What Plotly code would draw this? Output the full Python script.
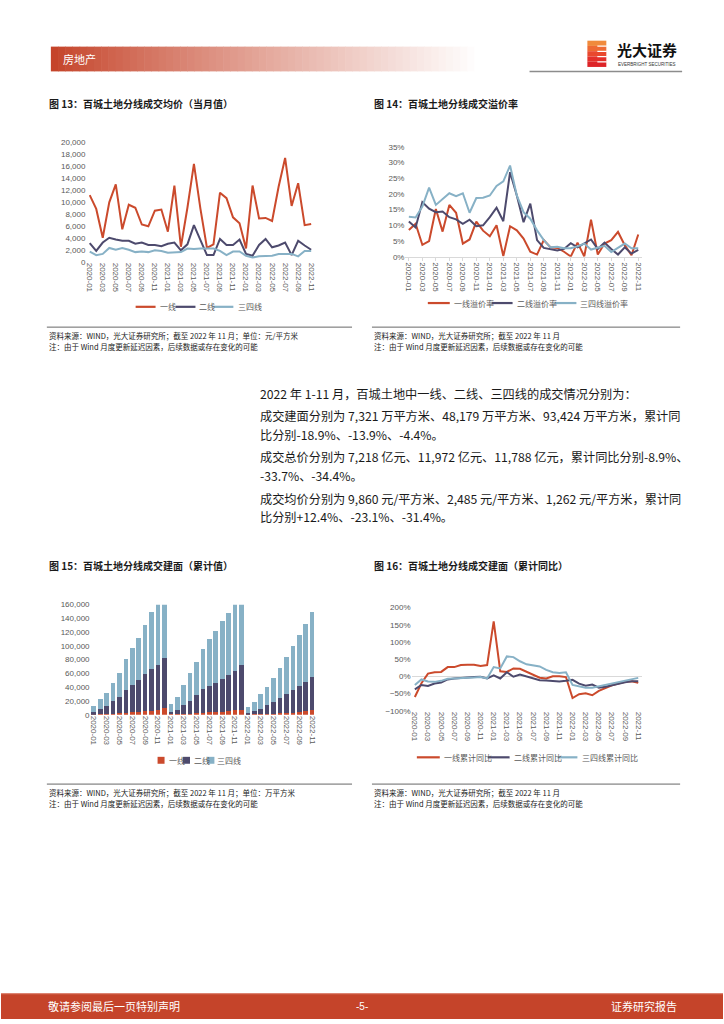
import plotly.graph_objects as go

W, H = 724, 1024

months = [f"{y}-{m:02d}" for y in (2020, 2021, 2022) for m in range(1, 13)][:35]
tick_months = months[::2]

# Fig 13: monthly average price (yuan / sqm)
price_t1 = [11100, 8800, 4000, 9900, 12900, 5400, 9500, 9000, 6200, 5900, 8500, 8700,
            5000, 12700, 2500, 9000, 16300, 8800, 2300, 2900, 11500, 10600, 7400, 6400,
            2200, 12700, 7200, 7300, 6800, 12500, 17300, 9300, 13100, 6100, 6300]
price_t2 = [3100, 1800, 3200, 4000, 3700, 3500, 3500, 3000, 3200, 2800, 2800, 2600,
            3000, 3200, 1900, 2900, 6100, 3500, 1100, 1100, 3800, 2800, 2800, 3700,
            1300, 1000, 2800, 3800, 2400, 2700, 3200, 1100, 3500, 2700, 2000]
price_t3 = [1700, 1100, 1300, 2300, 2000, 2300, 2000, 1600, 1700, 1600, 1900, 1800,
            1500, 1500, 1600, 2200, 2100, 2200, 2200, 2200, 1800, 1100, 1700, 1700,
            1000, 700, 900, 1000, 1000, 1300, 1300, 1300, 900, 1800, 1800]

# Fig 14: premium rate (%)
prem_t1 = [8.5, 10.5, 3.8, 5.0, 15.2, 8.0, 16.5, 14.0, 4.2, 5.5, 11.2, 8.3,
           6.5, 10.0, 0.2, 9.7, 8.4, 5.8, 1.6, 0.7, 5.3, 3.0, 2.8, 1.6,
           0.1, 4.5, 0.1, 11.8, 0.7, 4.2, 5.3, 7.9, 3.7, 0.5, 7.1]
prem_t2 = [11.2, 9.3, 17.4, 15.3, 14.2, 14.4, 12.6, 11.9, 10.5, 11.8, 9.7, 10.0,
           12.6, 15.6, 11.3, 26.9, 19.5, 11.0, 16.9, 5.3, 2.8, 2.5, 2.0, 2.5,
           4.3, 3.0, 4.3, 5.5, 2.5, 4.5, 2.5, 0.7, 3.0, 1.0, 2.2]
prem_t3 = [12.7, 12.5, 16.0, 22.0, 16.5, 18.5, 20.2, 19.3, 20.2, 14.0, 18.7, 18.8,
           19.5, 22.5, 24.0, 29.0, 19.5, 14.2, 12.1, 8.4, 5.3, 3.0, 3.2, 2.7,
           2.7, 3.3, 4.2, 2.3, 3.0, 3.5, 1.5, 2.8, 4.2, 2.7, 2.7]

# Fig 15: cumulative transacted floor area (10k sqm), stacked
area_t1 = [500, 800, 1000, 1500, 2000, 2500, 3500, 4000, 5000, 6000, 7000, 9500,
           500, 700, 1000, 1500, 2000, 3000, 3500, 4000, 4500, 5500, 6500, 7500,
           300, 500, 700, 1000, 1500, 2000, 2500, 3000, 4000, 5000, 7321]
area_t2 = [2900, 7400, 11000, 17700, 24400, 33500, 39700, 46500, 54100, 60300, 65000, 73100,
           3300, 6500, 12500, 18000, 26000, 34000, 38800, 41600, 47500, 52200, 56900, 65500,
           2600, 4300, 7500, 12500, 16800, 22000, 27800, 32600, 37800, 43000, 48179]
area_t3 = [9600, 14800, 20000, 26400, 33600, 45700, 53800, 61500, 71600, 83100, 100000, 107400,
           11600, 18800, 29700, 40500, 48900, 58600, 67700, 76000, 84000, 90800, 101600, 107000,
           8100, 13500, 21600, 27300, 34600, 44200, 54300, 63900, 73500, 83200, 93424]

# Fig 16: cumulative YoY of floor area (%)
yoy_t1 = [-60, -20, 8, 12, 13, 27, 27, 33, 34, 34, 30, 33,
          160, 15, 13, 23, 22, 13, 5, -4, -6, 0, 0, -2,
          -63, -52, -49, -55, -42, -33, -26, -21, -16, -14, -18.9]
yoy_t2 = [-38, -25, -28, -21, -18, -9, -6, -4, -3, -2, -1, -6,
          3, -6, 12, -1, 5, 0, -5, -11, -12, -13, -15, -13,
          -10, -21, -27, -24, -33, -30, -25, -21, -17, -14, -13.9]
yoy_t3 = [-25, -9, -15, -16, -13, -7, -6, -4, -4, -3, -2, -6,
          27, 23, 58, 56, 44, 35, 32, 29, 19, 12, 10, 12,
          -25, -28, -33, -33, -29, -25, -21, -17, -13, -9, -4.4]

RED = "#CB4A2C"
NAVY = "#4D4A6D"
BLUE = "#87B1C6"
GRAY_TXT = "#595959"
AXIS = "#D9D9D9"
FONT = "Liberation Sans, Noto Sans CJK SC, sans-serif"
CJK = "Noto Sans CJK SC, sans-serif"


def px(x):
    return x / W


def py(y):
    return 1 - y / H


def xdom(a, b):
    return [px(a), px(b)]


def ydom(top, bottom):
    return [py(bottom), py(top)]


fig = go.Figure()

for vals, col in ((price_t1, RED), (price_t2, NAVY), (price_t3, BLUE)):
    fig.add_trace(go.Scatter(x=months, y=vals, mode="lines", line=dict(color=col, width=2),
                             xaxis="x", yaxis="y", showlegend=False, hoverinfo="skip"))
for vals, col in ((prem_t1, RED), (prem_t2, NAVY), (prem_t3, BLUE)):
    fig.add_trace(go.Scatter(x=months, y=vals, mode="lines", line=dict(color=col, width=2),
                             xaxis="x2", yaxis="y2", showlegend=False, hoverinfo="skip"))
for vals, col in ((area_t1, RED), (area_t2, NAVY), (area_t3, BLUE)):
    fig.add_trace(go.Bar(x=months, y=vals, marker=dict(color=col, line=dict(width=0)),
                         xaxis="x3", yaxis="y3", showlegend=False, hoverinfo="skip"))
for vals, col in ((yoy_t1, RED), (yoy_t2, NAVY), (yoy_t3, BLUE)):
    fig.add_trace(go.Scatter(x=months, y=vals, mode="lines", line=dict(color=col, width=2),
                             xaxis="x4", yaxis="y4", showlegend=False, hoverinfo="skip"))

tickfont = dict(family=FONT, size=8, color=GRAY_TXT)


def xax(dom, anchor, show_line):
    return dict(domain=dom, anchor=anchor, type="category", range=[-0.5, 34.5],
                tickmode="array", tickvals=tick_months, ticktext=tick_months,
                tickangle=90, tickfont=tickfont, showgrid=False, zeroline=False,
                showline=show_line, linecolor=AXIS, linewidth=1,
                ticks="outside" if show_line else "", ticklen=3, tickcolor=AXIS,
                fixedrange=True)


def yax(dom, anchor, rng, dtick, fmt="", suffix="", zl=False):
    return dict(domain=dom, anchor=anchor, range=rng, dtick=dtick, tickformat=fmt,
                ticksuffix=suffix, tickfont=tickfont, showgrid=False,
                zeroline=zl, zerolinecolor=AXIS, zerolinewidth=1,
                showline=False, ticks="", fixedrange=True)


fig.update_layout(
    width=W, height=H, margin=dict(l=0, r=0, t=0, b=0),
    paper_bgcolor="white", plot_bgcolor="rgba(0,0,0,0)",
    barmode="stack", bargap=0.28,
    xaxis=xax(xdom(85.7, 314.3), "y", False),
    yaxis=yax(ydom(139, 260), "x", [0, 20000], 2000, ","),
    xaxis2=xax(xdom(405.6, 642.4), "y2", True),
    yaxis2=yax(ydom(144, 255), "x2", [0, 35], 5, "", "%"),
    xaxis3=xax(xdom(89.8, 315.2), "y3", False),
    yaxis3=yax(ydom(606, 717), "x3", [0, 160000], 20000, ","),
    xaxis4=xax(xdom(411.7, 642.3), "y4", False),
    yaxis4=yax(ydom(609, 713), "x4", [-100, 200], 50, "", "%", zl=True),
)

shapes = []
annots = []


def text(x, y, s, size=8, color=GRAY_TXT, anchor="left", family=CJK, bold=False):
    if bold:
        s = f"<b>{s}</b>"
    annots.append(dict(x=px(x), y=py(y), xref="paper", yref="paper", text=s,
                       showarrow=False, xanchor=anchor, yanchor="middle",
                       font=dict(family=family, size=size, color=color)))


def rect(x0, y0, x1, y1, color):
    shapes.append(dict(type="rect", xref="paper", yref="paper", x0=px(x0), x1=px(x1),
                       y0=py(y1), y1=py(y0), fillcolor=color, line=dict(width=0),
                       layer="below"))


def hline(x0, x1, y, color, width=1):
    shapes.append(dict(type="line", xref="paper", yref="paper", x0=px(x0), x1=px(x1),
                       y0=py(y), y1=py(y), line=dict(color=color, width=width)))


# header gradient bar
n = 60
x_start, x_end = 50, 482
c0 = (197, 68, 42)
for i in range(n):
    t = i / (n - 1)
    tt = min(1.0, t ** 0.9)
    c = tuple(int(round(c0[k] + (255 - c0[k]) * tt)) for k in range(3))
    xa = x_start + (x_end - x_start) * i / n
    xb = x_start + (x_end - x_start) * (i + 1) / n + 0.6
    rect(xa, 43, xb, 68, f"rgb{c}")
text(60, 55.5, "房地产", size=11, color="white")

# logo
logo_cols = ["#F08A3C", "#EE6A34", "#E9482E", "#E3302B", "#DD2428"]
for i, col in enumerate(logo_cols):
    rect(588, 37 + i * 5.3, 607, 37 + (i + 1) * 5.3, col)
for yy in (42.5, 47.8, 53.1, 58.4):
    shapes.append(dict(type="line", xref="paper", yref="paper", x0=px(598), x1=px(607.5),
                       y0=py(yy), y1=py(yy), line=dict(color="white", width=1.2)))
text(616, 46, "光大证券", size=15, color="#111", bold=True)
text(617, 61.5, "EVERBRIGHT SECURITIES", size=4.5, color="#333", family=FONT)
hline(530, 683, 68, "#8C8C8C", 1.5)

# chart titles
text(46, 100, "图 13：百城土地分线成交均价（当月值）", size=10, color="#1a1a1a", bold=True)
text(372, 100, "图 14：百城土地分线成交溢价率", size=10, color="#1a1a1a", bold=True)
text(46, 566, "图 15：百城土地分线成交建面（累计值）", size=10, color="#1a1a1a", bold=True)
text(372, 566, "图 16：百城土地分线成交建面（累计同比）", size=10, color="#1a1a1a", bold=True)


def line_legend(items, y):
    for (x0, x1, tx, label, col) in items:
        shapes.append(dict(type="line", xref="paper", yref="paper", x0=px(x0), x1=px(x1),
                           y0=py(y), y1=py(y), line=dict(color=col, width=2.2)))
        text(tx, y, label, size=8)


line_legend([(135, 155, 157, "一线", RED), (175, 195, 197, "二线", NAVY),
             (213, 233, 236, "三四线", BLUE)], 305.5)
line_legend([(428, 450, 452, "一线溢价率", RED), (492, 513, 515, "二线溢价率", NAVY),
             (555, 577, 579, "三四线溢价率", BLUE)], 301.7)
line_legend([(417, 440, 442, "一线累计同比", RED), (488, 510, 512, "二线累计同比", NAVY),
             (558, 578, 581, "三四线累计同比", BLUE)], 760)
for (x0, tx, label, col) in ((157, 166, "一线", RED), (182.5, 191.5, "二线", NAVY),
                             (207, 215, "三四线", BLUE)):
    rect(x0, 759.5, x0 + 7, 766.5, col)
    text(tx, 763, label, size=8)

# source notes
for y_line, y1, y2, src_l in ((326, 334, 346, "资料来源：WIND，光大证券研究所；截至 2022 年 11 月；单位：元/平方米"),
                              (787, 795, 807, "资料来源：WIND，光大证券研究所；截至 2022 年 11 月；单位：万平方米")):
    hline(46, 352, y_line, "#404040", 0.8)
    hline(372, 681, y_line, "#404040", 0.8)
    text(46, y1, src_l, size=7.5, color="#222")
    text(372, y1, "资料来源：WIND，光大证券研究所；截至 2022 年 11 月", size=7.5, color="#222")
    text(46, y2, "注：由于 Wind 月度更新延迟因素，后续数据或存在变化的可能", size=7.5, color="#222")
    text(372, y2, "注：由于 Wind 月度更新延迟因素，后续数据或存在变化的可能", size=7.5, color="#222")

# body text
body = [
    (393, "2022 年 1-11 月，百城土地中一线、二线、三四线的成交情况分别为："),
    (416, "成交建面分别为 7,321 万平方米、48,179 万平方米、93,424 万平方米，累计同"),
    (434.5, "比分别-18.9%、-13.9%、-4.4%。"),
    (457.5, "成交总价分别为 7,218 亿元、11,972 亿元、11,788 亿元，累计同比分别-8.9%、"),
    (476, "-33.7%、-34.4%。"),
    (499, "成交均价分别为 9,860 元/平方米、2,485 元/平方米、1,262 元/平方米，累计同"),
    (517.5, "比分别+12.4%、-23.1%、-31.4%。"),
]
for y, s in body:
    text(258, y, s, size=12.2, color="#1a1a1a")

# footer
rect(0, 998, 724, 1024, "#C5442A")
hline(0, 724, 998.5, "#E08A78", 1)
text(45, 1011, "敬请参阅最后一页特别声明", size=11, color="white")
text(362, 1011, "-5-", size=10, color="white", anchor="center", family=FONT)
text(680, 1011, "证券研究报告", size=11, color="white", anchor="right")

fig.update_layout(shapes=shapes, annotations=annots)

fig.write_html("out.html", config={"displayModeBar": False},
               post_script="document.body.style.margin='0';")
